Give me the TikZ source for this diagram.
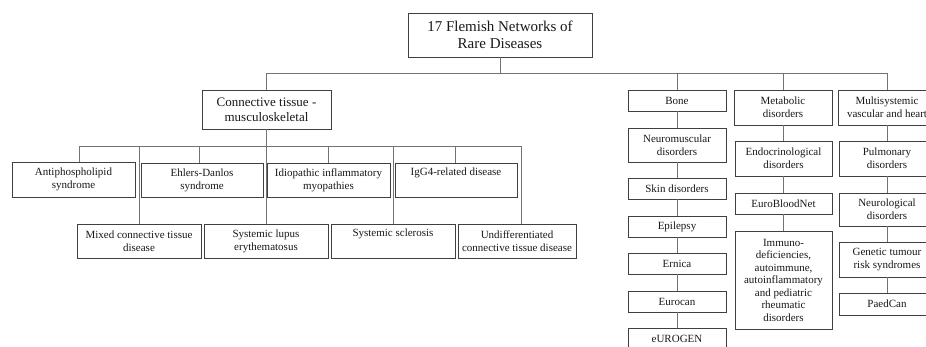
\documentclass[tikz,border=0pt]{standalone}
\usepackage{fontspec}
\setmainfont{Liberation Serif}
\definecolor{boxc}{gray}{0.25}
\definecolor{linec}{gray}{0.45}
\begin{document}
\begin{tikzpicture}[x=1pt,y=-1pt,
  box/.style={draw=boxc, line width=0.8pt, rectangle, inner sep=0pt, align=center,
    font=\fontsize{11}{13}\selectfont, text=black!90},
  conn/.style={draw=linec, line width=0.8pt},
  wh/.style 2 args={minimum width=#1pt, minimum height=#2pt}]
\useasboundingbox[fill=white] (0,0) rectangle (926,347);

% top
\node[box, wh={184}{44}, font=\fontsize{15}{17}\selectfont] (top) at (500,35) {17 Flemish Networks of\\Rare Diseases};
\coordinate (bus1) at (0,73);
\coordinate (bus2) at (0,146);

% level 1
\node[box, wh={129}{39}, font=\fontsize{13}{15}\selectfont] (conn) at (266.5,109.5) {Connective tissue -\\musculoskeletal};
\node[box, wh={98}{21}] (bone) at (677,100.5) {Bone};
\node[box, wh={98}{35}] (metab) at (783,107.5) {Metabolic\\disorders};
\node[box, wh={98}{35}] (multi) at (887,107.5) {Multisystemic\\vascular and heart};

% bone column
\node[box, wh={98}{34}] (neuro) at (677,145) {Neuromuscular\\disorders};
\node[box, wh={98}{21}] (skin) at (677,188.5) {Skin disorders};
\node[box, wh={98}{21}] (epi) at (677,226.5) {Epilepsy};
\node[box, wh={98}{21}] (ernica) at (677,263.5) {Ernica};
\node[box, wh={98}{21}] (eurocan) at (677,301.5) {Eurocan};
\node[box, wh={98}{21}] (eurogen) at (677,338.5) {eUROGEN};

% metabolic column
\node[box, wh={97}{35}] (endo) at (783.5,158.5) {Endocrinological\\disorders};
\node[box, wh={97}{21}] (ebn) at (783.5,203.5) {EuroBloodNet};
\node[box, wh={97}{98}, font=\fontsize{11}{12.5}\selectfont] (immuno) at (783.5,280) {Immuno-\\deficiencies,\\autoimmune,\\autoinflammatory\\and pediatric\\rheumatic\\disorders};

% multisystemic column
\node[box, wh={96}{35}] (pulm) at (887,158.5) {Pulmonary\\disorders};
\node[box, wh={96}{33}] (neurol) at (887,209.5) {Neurological\\disorders};
\node[box, wh={96}{35}] (genetic) at (887,259.5) {Genetic tumour\\risk syndromes};
\node[box, wh={96}{22}] (paedcan) at (887,304) {PaedCan};

% connective tissue children, row 1
\node[box, wh={123}{35}] (anti) at (73.5,179.5) {Antiphospholipid\\syndrome};
\node[box, wh={122}{34}] (ehlers) at (202,180) {Ehlers-Danlos\\syndrome};
\node[box, wh={123}{34}] (idio) at (328.5,180) {Idiopathic inflammatory\\myopathies};
\node[box, wh={122}{34}] (igg) at (456,180) {IgG4-related disease\\\strut};
% row 2
\node[box, wh={124}{34}] (mixed) at (139,241) {Mixed connective tissue\\disease};
\node[box, wh={124}{34}] (lupus) at (266,241) {Systemic lupus\\erythematosus};
\node[box, wh={124}{34}] (scler) at (393,241) {Systemic sclerosis\\\strut};
\node[box, wh={118}{34}] (undiff) at (517,241) {Undifferentiated\\connective tissue disease};

% connectors: top level
\draw[conn] (top.south) -- (top.south |- bus1);
\draw[conn] ([xshift=-0.5pt]conn.north |- bus1) -- (multi.north |- bus1);
\draw[conn] ([xshift=-0.5pt]conn.north) -- ([xshift=-0.5pt]conn.north |- bus1);
\draw[conn] (bone.north) -- (bone.north |- bus1);
\draw[conn] (metab.north) -- (metab.north |- bus1);
\draw[conn] (multi.north) -- (multi.north |- bus1);

% columns
\draw[conn] (bone) -- (neuro);
\draw[conn] (neuro) -- (skin);
\draw[conn] (skin) -- (epi);
\draw[conn] (epi) -- (ernica);
\draw[conn] (ernica) -- (eurocan);
\draw[conn] (eurocan) -- (eurogen);
\draw[conn] ([xshift=-0.5pt]endo.north |- metab.south) -- ([xshift=-0.5pt]endo.north);
\draw[conn] (endo) -- (ebn);
\draw[conn] (ebn) -- (immuno);
\draw[conn] (multi.south) -- (pulm.north);
\draw[conn] (pulm) -- (neurol);
\draw[conn] (neurol) -- (genetic);
\draw[conn] (genetic) -- (paedcan);

% connective tissue sub-tree
\draw[conn] (lupus.north |- conn.south) -- (lupus.north);
\draw[conn] ([xshift=5.5pt]anti.north |- bus2) -- ([xshift=4pt]undiff.north |- bus2);
\draw[conn] ([xshift=5.5pt]anti.north) -- ([xshift=5.5pt]anti.north |- bus2);
\draw[conn] ([xshift=-3pt]ehlers.north) -- ([xshift=-3pt]ehlers.north |- bus2);
\draw[conn] (idio.north) -- (idio.north |- bus2);
\draw[conn] ([xshift=-1pt]igg.north) -- ([xshift=-1pt]igg.north |- bus2);
\draw[conn] (mixed.north) -- (mixed.north |- bus2);
\draw[conn] (scler.north) -- (scler.north |- bus2);
\draw[conn] ([xshift=4pt]undiff.north) -- ([xshift=4pt]undiff.north |- bus2);
\end{tikzpicture}
\end{document}
